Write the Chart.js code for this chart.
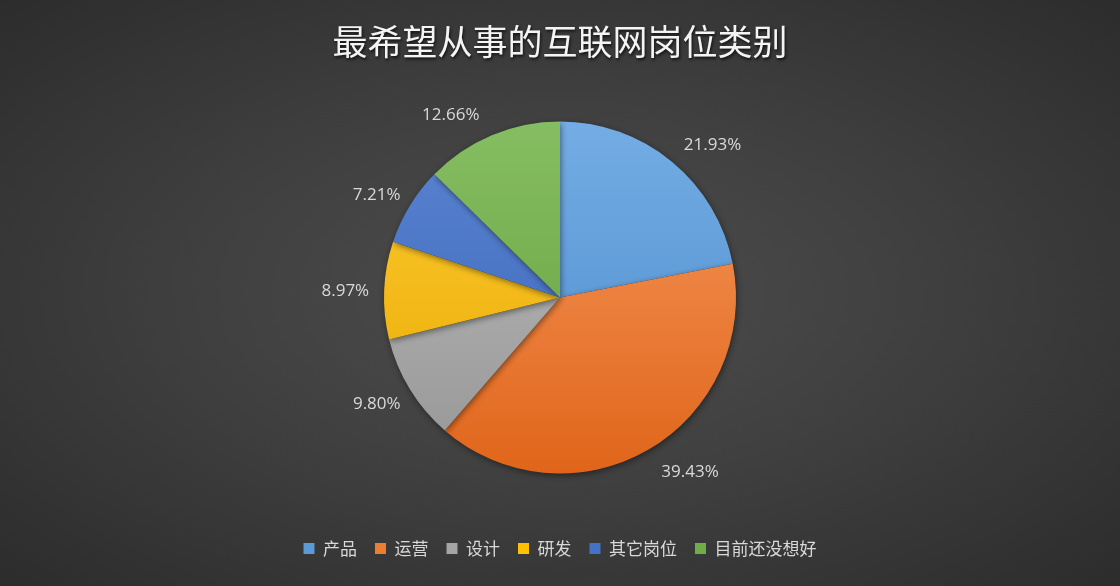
<!DOCTYPE html>
<html>
<head>
    <meta charset="utf-8" />
    <title>最希望从事的互联网岗位类别</title>
    <script src="https://cdn.jsdelivr.net/npm/chart.js"></script>
    <style>
        html, body {
            margin: 0;
            padding: 0;
        }
        body {
            width: 1120px;
            height: 586px;
            overflow: hidden;
            background: radial-gradient(ellipse at 50% 50%, #4d4d4d 0%, #404040 45%, #2c2c2c 100%);
        }
        #wrap {
            width: 1120px;
            height: 586px;
        }
    </style>
</head>
<body>
    <div id="wrap"><canvas id="pie"></canvas></div>
    <script>
        var categories = ['产品', '运营', '设计', '研发', '其它岗位', '目前还没想好'];
        var shares = [21.93, 39.43, 9.80, 8.97, 7.21, 12.66];
        var baseColors = ['#5b9bd5', '#ed7d31', '#a5a5a5', '#ffc000', '#4472c4', '#70ad47'];
        var topColors = ['#74ade4', '#f79a60', '#bdbdbd', '#ffcc33', '#5b85d2', '#86bd62'];
        var bottomColors = ['#4a8acb', '#e0651a', '#969696', '#e6a800', '#3762b6', '#61a03a'];

        var PIE_R = 176;

        // 扇区竖向渐变（上浅下深）
        function sliceFill(ctx) {
            var chart = ctx.chart;
            var i = ctx.dataIndex;
            var area = chart.chartArea;
            if (!area || i === undefined) return baseColors[i || 0];
            var cy = (area.top + area.bottom) / 2;
            if (!isFinite(cy)) return baseColors[i];
            var g = chart.ctx.createLinearGradient(0, cy - PIE_R, 0, cy + PIE_R);
            g.addColorStop(0, topColors[i]);
            g.addColorStop(1, bottomColors[i]);
            return g;
        }

        // 百分比标签画在扇区外侧（文字框贴着外圈，靠上下的往两边推一点）
        var outsideLabels = {
            id: 'outsideLabels',
            afterDatasetsDraw: function(chart) {
                var ctx = chart.ctx;
                var meta = chart.getDatasetMeta(0);
                ctx.save();
                ctx.font = '17px "Open Sans", "DejaVu Sans", sans-serif';
                ctx.fillStyle = '#d9d9d9';
                ctx.textAlign = 'center';
                ctx.textBaseline = 'middle';
                meta.data.forEach(function(arc, i) {
                    var text = shares[i].toFixed(2) + '%';
                    var mid = (arc.startAngle + arc.endAngle) / 2;
                    var dist = arc.outerRadius + 15;
                    var c = Math.cos(mid), s = Math.sin(mid);
                    var halfW = ctx.measureText(text).width / 2;
                    var halfH = 9;
                    var push = 75 * Math.max(0, Math.abs(s) - 0.6) * (c < 0 ? -1 : 1);
                    var x = arc.x + c * dist + c * halfW + push;
                    var y = arc.y + s * dist + s * halfH + 2;
                    ctx.fillText(text, x, y);
                });
                ctx.restore();
            }
        };

        // 饼图阴影
        var pieShadow = {
            id: 'pieShadow',
            beforeDatasetsDraw: function(chart) {
                var ctx = chart.ctx;
                ctx.save();
                ctx.shadowColor = 'rgba(0,0,0,0.45)';
                ctx.shadowBlur = 6;
                ctx.shadowOffsetX = 1;
                ctx.shadowOffsetY = 2;
            },
            afterDatasetsDraw: function(chart) {
                chart.ctx.restore();
            }
        };

        // 标题文字阴影
        var titleShadow = {
            id: 'titleShadow',
            beforeDraw: function(chart) {
                var tb = chart.titleBlock;
                if (!tb || tb._shadowed) return;
                var orig = tb.draw;
                tb.draw = function() {
                    var ctx = chart.ctx;
                    ctx.save();
                    ctx.shadowColor = 'rgba(0,0,0,0.7)';
                    ctx.shadowBlur = 3;
                    ctx.shadowOffsetX = 1;
                    ctx.shadowOffsetY = 2;
                    orig.apply(tb, arguments);
                    ctx.restore();
                };
                tb._shadowed = true;
            }
        };

        new Chart(document.getElementById('pie'), {
            type: 'pie',
            data: {
                labels: categories,
                datasets: [{
                    data: shares,
                    backgroundColor: sliceFill,
                    borderWidth: 0,
                    radius: PIE_R
                }]
            },
            options: {
                responsive: true,
                maintainAspectRatio: false,
                animation: false,
                layout: {
                    padding: { top: 0, bottom: 19, left: 0, right: 0 }
                },
                plugins: {
                    title: {
                        display: true,
                        text: '最希望从事的互联网岗位类别',
                        color: '#f4f4f4',
                        font: { family: '"Noto Sans CJK SC", sans-serif', size: 35, weight: 'normal' },
                        padding: { top: 21, bottom: 10 }
                    },
                    legend: {
                        position: 'bottom',
                        labels: {
                            color: '#d9d9d9',
                            font: { family: '"Noto Sans CJK SC", sans-serif', size: 17 },
                            boxWidth: 11,
                            boxHeight: 11,
                            padding: 18,
                            generateLabels: function(chart) {
                                return categories.map(function(c, i) {
                                    return {
                                        text: c,
                                        fillStyle: baseColors[i],
                                        strokeStyle: baseColors[i],
                                        lineWidth: 0,
                                        fontColor: '#d9d9d9',
                                        index: i
                                    };
                                });
                            }
                        }
                    },
                    tooltip: { enabled: false }
                }
            },
            plugins: [titleShadow, pieShadow, outsideLabels]
        });
    </script>
</body>
</html>
